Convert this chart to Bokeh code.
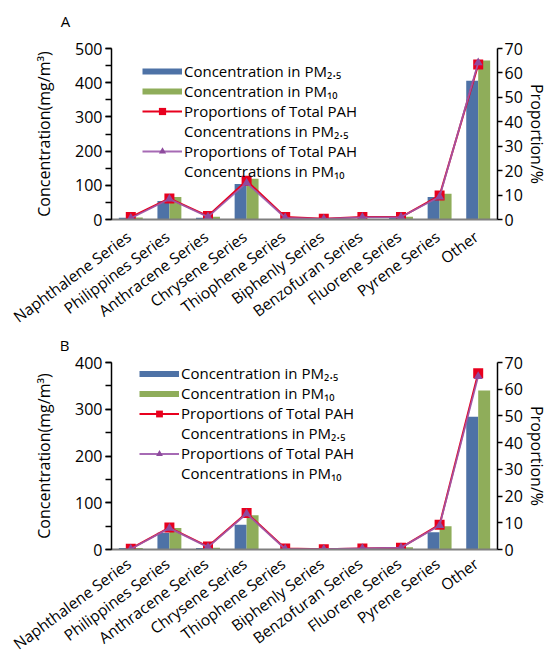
import numpy as np
from bokeh.plotting import figure
from bokeh.models import (FactorRange, Range1d, LinearAxis, SingleIntervalTicker,
                          Legend, LegendItem, ColumnDataSource)
from bokeh.core.properties import value
from bokeh.transform import dodge
from bokeh.layouts import column
from bokeh.embed import file_html
from bokeh.resources import INLINE

categories = ["Naphthalene Series", "Philippines Series", "Anthracene Series",
              "Chrysene Series", "Thiophene Series", "Biphenly Series",
              "Benzofuran Series", "Fluorene Series", "Pyrene Series", "Other"]

# Panel A
a_pm25 = [5, 54, 5, 104, 1, 0.5, 1, 6, 66, 406]
a_pm10 = [6, 66, 8, 119, 1, 0.5, 1, 8, 75, 465]
a_prop25 = [1.0, 8.6, 1.4, 15.9, 1.0, 0.3, 1.0, 1.0, 9.8, 63.4]
a_prop10 = [0.5, 8.4, 1.1, 15.0, 0.7, 0.2, 0.9, 1.0, 9.3, 64.2]

# Panel B
b_pm25 = [3, 36, 3, 53, 1, 0.5, 2, 4, 37, 284]
b_pm10 = [3, 46, 4, 73, 1, 0.5, 2, 5, 50, 340]
b_prop25 = [0.3, 8.2, 1.1, 13.7, 0.4, 0.1, 0.4, 0.7, 9.3, 66.0]
b_prop10 = [0.2, 8.0, 0.9, 13.4, 0.2, 0.1, 0.4, 0.7, 9.0, 64.8]

legend_labels = ["Concentration in PM\u2082.\u2085", "Concentration in PM\u2081\u2080",
                 "Proportions of Total PAH", "Concentrations in PM\u2082.\u2085",
                 "Proportions of Total PAH", "Concentrations in PM\u2081\u2080"]

FONT = "Open Sans"
BLUE = "#4E72A6"
GREEN = "#8FAD5A"
RED = "#E8001E"
PURPLE_LINE = "#9C5AAC"
PURPLE = "#8E4B9E"


def make_panel(letter, pm25, pm10, p25, p10, ymax, height, btop, bleft, bright,
               bbottom, legend_loc, row_h, letter_offset, label_dy):
    src = ColumnDataSource(dict(cat=categories, pm25=pm25, pm10=pm10, p25=p25, p10=p10))
    p = figure(x_range=FactorRange(*categories), y_range=Range1d(0, ymax),
               width=556, height=height, output_backend="svg", toolbar_location=None,
               min_border_top=btop, min_border_left=bleft, min_border_right=bright,
               min_border_bottom=bbottom)
    p.extra_y_ranges = {"prop": Range1d(0, 70)}
    p.outline_line_color = None
    p.xgrid.grid_line_color = None
    p.ygrid.grid_line_color = None

    p.vbar(x=dodge("cat", -0.155, range=p.x_range), top="pm25", width=0.31,
           source=src, fill_color=BLUE, line_color=None)
    p.vbar(x=dodge("cat", 0.155, range=p.x_range), top="pm10", width=0.31,
           source=src, fill_color=GREEN, line_color=None)

    rl = p.line(x="cat", y="p25", source=src, y_range_name="prop",
                line_color=RED, line_width=2)
    rs = p.scatter(x="cat", y="p25", source=src, y_range_name="prop", marker="square",
                   size=10, fill_color=RED, line_color=None)
    pl = p.line(x="cat", y="p10", source=src, y_range_name="prop",
                line_color=PURPLE_LINE, line_width=1.8, line_alpha=0.9)
    ps = p.scatter(x="cat", y="p10", source=src, y_range_name="prop", marker="triangle",
                   size=9, fill_color=PURPLE, line_color=None)

    # category labels below the axis, drawn as rotated text
    p.text(x="cat", y=0, text="cat", source=src, angle=0.637, text_align="right",
           text_baseline="middle", x_offset=-2, y_offset=label_dy, text_font=value(FONT),
           text_font_size="15.5px", text_color="#000000", level="overlay")

    # panel letter, anchored at the top of the first category
    p.text(x=[categories[0]], y=[ymax], text=[letter], x_offset=letter_offset[0],
           y_offset=letter_offset[1], text_align="left", text_baseline="middle",
           text_font=value(FONT), text_font_size="15px", text_color="#000000",
           level="overlay")

    # legend swatches (proxy renderers that draw nothing in the plot)
    bl = p.line(x=[categories[0]], y=np.array([np.nan]), line_color=BLUE, line_width=6)
    gl = p.line(x=[categories[0]], y=np.array([np.nan]), line_color=GREEN, line_width=6)

    items = [LegendItem(label=legend_labels[0], renderers=[bl]),
             LegendItem(label=legend_labels[1], renderers=[gl]),
             LegendItem(label=legend_labels[2], renderers=[rl, rs]),
             LegendItem(label=legend_labels[3], renderers=[]),
             LegendItem(label=legend_labels[4], renderers=[pl, ps]),
             LegendItem(label=legend_labels[5], renderers=[])]
    leg = Legend(items=items, location=legend_loc, label_text_font=FONT,
                 label_text_font_size="15px", label_text_color="#000000",
                 label_height=row_h, glyph_height=row_h, glyph_width=40, label_standoff=2,
                 spacing=0, padding=0, margin=0, border_line_color=None,
                 background_fill_alpha=0, level="overlay")
    p.add_layout(leg, "center")

    # left axis
    ya = p.yaxis[0]
    ya.ticker = SingleIntervalTicker(interval=100, num_minor_ticks=2)
    ya.axis_label = "Concentration(mg/m\u00b3)"
    ya.axis_label_text_font = FONT
    ya.axis_label_text_font_size = "16px"
    ya.axis_label_text_font_style = "normal"
    ya.axis_label_text_color = "#000000"
    ya.axis_label_standoff = 17
    ya.major_label_text_font = FONT
    ya.major_label_text_font_size = "16px"
    ya.major_label_text_color = "#000000"
    ya.major_label_standoff = 3
    ya.axis_line_color = "#000000"
    ya.axis_line_width = 1.5
    ya.major_tick_line_color = "#000000"
    ya.major_tick_line_width = 1.3
    ya.major_tick_in = 0
    ya.major_tick_out = 6
    ya.minor_tick_line_color = "#000000"
    ya.minor_tick_line_width = 1.3
    ya.minor_tick_in = 0
    ya.minor_tick_out = 6

    # right axis
    ra = LinearAxis(y_range_name="prop",
                    ticker=SingleIntervalTicker(interval=10, num_minor_ticks=0))
    ra.axis_label = "Proportion/%"
    ra.axis_label_text_font = FONT
    ra.axis_label_text_font_size = "16px"
    ra.axis_label_text_font_style = "normal"
    ra.axis_label_text_color = "#000000"
    ra.axis_label_text_line_height = 0.8
    ra.axis_label_standoff = 0
    ra.major_label_text_font = FONT
    ra.major_label_text_font_size = "16px"
    ra.major_label_text_color = "#000000"
    ra.major_label_standoff = 2
    ra.axis_line_color = "#000000"
    ra.axis_line_width = 1.5
    ra.major_tick_line_color = "#000000"
    ra.major_tick_line_width = 1.3
    ra.major_tick_in = 0
    ra.major_tick_out = 5
    ra.minor_tick_line_color = None
    p.add_layout(ra, "right")

    # x axis: line only, labels are drawn by the text glyph above
    xa = p.xaxis[0]
    xa.axis_line_color = "#7F7F7F"
    xa.axis_line_width = 2
    xa.major_tick_line_color = None
    xa.minor_tick_line_color = None
    xa.major_tick_out = 0
    xa.major_tick_in = 0
    xa.major_label_text_color = None
    return p


pa = make_panel("A", a_pm25, a_pm10, a_prop25, a_prop10, 500, 326, 48, 108, 58, 107,
                (31, 38), 18, (-70, -28), 15)
pb = make_panel("B", b_pm25, b_pm10, b_prop25, b_prop10, 400, 328, 36, 111, 59, 105,
                (28, 66), 17, (-71, -18), 12)

layout = column(pa, pb, spacing=0)
open("out.html", "w").write(file_html(layout, INLINE))
